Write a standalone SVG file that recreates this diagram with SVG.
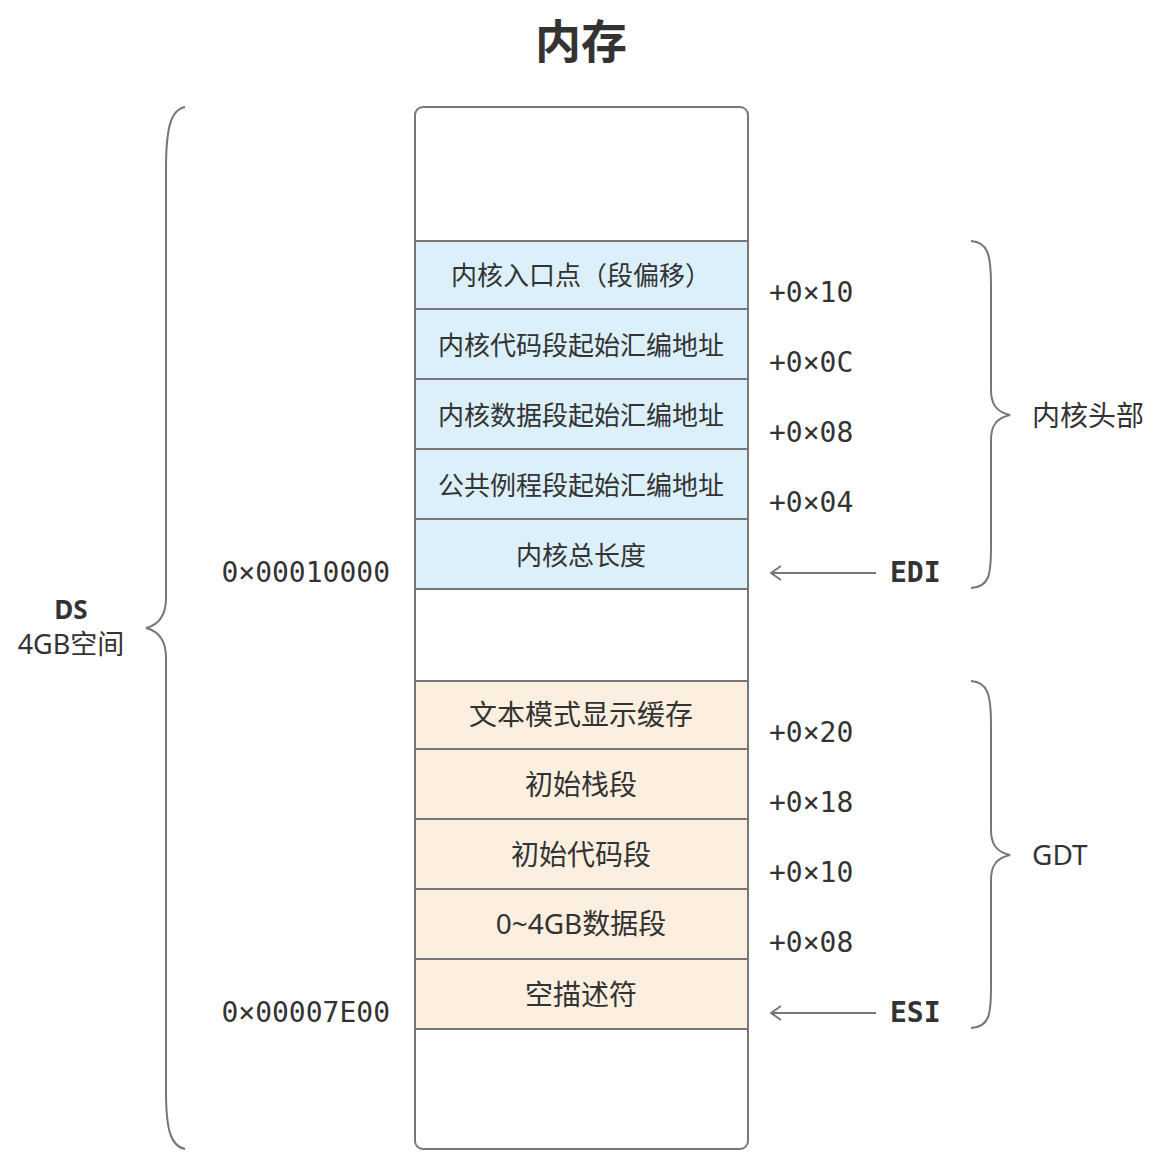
<svg xmlns="http://www.w3.org/2000/svg" width="1169" height="1171" viewBox="0 0 1169 1171">
<style>
.t{font-family:"Noto Sans","Noto Sans CJK SC",sans-serif;fill:#333;font-size:26px;dominant-baseline:central}
.L{font-size:28px}
.m{font-family:"DejaVu Sans Mono","Liberation Mono",monospace;fill:#333;font-size:28px;dominant-baseline:central}
.b{font-weight:bold}
.row{stroke:#777;stroke-width:2}
.blue{fill:#dbf0fb}
.org{fill:#fdefdf}
.brace{fill:none;stroke:#777;stroke-width:2}
.arr{fill:none;stroke:#777;stroke-width:2}
</style>
<defs>
<marker id="ah" viewBox="0 0 12 16" refX="11" refY="8" markerWidth="12" markerHeight="16" markerUnits="userSpaceOnUse" orient="auto">
<path d="M1,1 L11,8 L1,15" fill="none" stroke="#777" stroke-width="2"/>
</marker>
</defs>
<rect width="1169" height="1171" fill="#fff"/>
<text class="t b" x="581" y="40" text-anchor="middle" style="font-size:46px">内存</text>
<g id="memory">
<rect x="415" y="107" width="333" height="1042" rx="8" fill="#fff" stroke="#777" stroke-width="2"/>
</g>
<g id="kernel-header">
<rect class="row blue" x="415" y="241" width="333" height="70"/>
<rect class="row blue" x="415" y="309" width="333" height="70"/>
<rect class="row blue" x="415" y="379" width="333" height="70"/>
<rect class="row blue" x="415" y="449" width="333" height="70"/>
<rect class="row blue" x="415" y="519" width="333" height="70"/>
<text class="t" x="581" y="275" text-anchor="middle">内核入口点（段偏移）</text>
<text class="t" x="581" y="345" text-anchor="middle">内核代码段起始汇编地址</text>
<text class="t" x="581" y="415" text-anchor="middle">内核数据段起始汇编地址</text>
<text class="t" x="581" y="485" text-anchor="middle">公共例程段起始汇编地址</text>
<text class="t" x="581" y="555" text-anchor="middle">内核总长度</text>
</g>
<g id="gdt">
<rect class="row org" x="415" y="681" width="333" height="68"/>
<rect class="row org" x="415" y="749" width="333" height="70"/>
<rect class="row org" x="415" y="819" width="333" height="70"/>
<rect class="row org" x="415" y="889" width="333" height="70"/>
<rect class="row org" x="415" y="959" width="333" height="70"/>
<text class="t L" x="581" y="714" text-anchor="middle">文本模式显示缓存</text>
<text class="t L" x="581" y="784" text-anchor="middle">初始栈段</text>
<text class="t L" x="581" y="854" text-anchor="middle">初始代码段</text>
<text class="t L" x="581" y="923" text-anchor="middle">0~4GB数据段</text>
<text class="t L" x="581" y="994" text-anchor="middle">空描述符</text>
</g>
<g id="offsets">
<text class="m" x="769" y="292">+0×10</text>
<text class="m" x="769" y="362">+0×0C</text>
<text class="m" x="769" y="432">+0×08</text>
<text class="m" x="769" y="502">+0×04</text>
<text class="m" x="769" y="732">+0×20</text>
<text class="m" x="769" y="802">+0×18</text>
<text class="m" x="769" y="872">+0×10</text>
<text class="m" x="769" y="942">+0×08</text>
<text class="m b" x="890" y="572">EDI</text>
<text class="m b" x="890" y="1012">ESI</text>
<text class="m" x="390" y="572" text-anchor="end">0×00010000</text>
<text class="m" x="390" y="1012" text-anchor="end">0×00007E00</text>
</g>
<g id="labels">
<text class="t L" x="1032" y="415">内核头部</text>
<text class="t L" x="1032" y="854">GDT</text>
<text class="t b" x="71" y="609" text-anchor="middle">DS</text>
<text class="t" x="71" y="643" text-anchor="middle" style="font-size:27px">4GB空间</text>
</g>
<g id="connectors">
<path class="arr" d="M876,573 L771,573" marker-end="url(#ah)"/>
<path class="arr" d="M876,1013 L771,1013" marker-end="url(#ah)"/>
<path class="brace" d="M971,241 C988,242 991,255 991,285 L991,390 C991,405 997,412 1010,415 C997,418 991,425 991,440 L991,548 C991,575 989,587 971,588"/>
<path class="brace" d="M971,681 C988,682 991,695 991,725 L991,830 C991,845 997,852 1010,855 C997,858 991,865 991,880 L991,988 C991,1015 989,1027 971,1028"/>
<path class="brace" d="M185,107 C170,110 166,130 166,170 L166,598 C166,616 158,625 146,628 C158,631 166,640 166,658 L166,1090 C166,1128 170,1146 185,1149"/>
</g>
</svg>
